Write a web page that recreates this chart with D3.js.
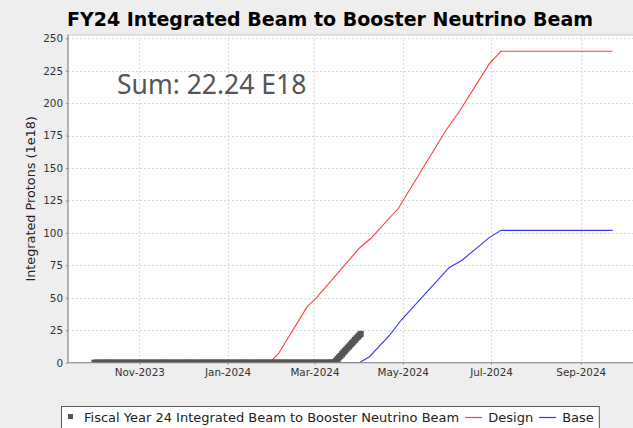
<!DOCTYPE html>
<html lang="en">
<head>
<meta charset="UTF-8">
<title>FY24 Integrated Beam to Booster Neutrino Beam</title>
<script src="https://d3js.org/d3.v7.min.js"></script>
<style>
  body { margin: 0; background: #eeeeee; font-family: "DejaVu Sans", sans-serif; }
  svg { display: block; }
  .grid line { stroke: #dadada; stroke-dasharray: 2,2; }
  .axis text { font-size: 10.4px; fill: #333; font-family: "DejaVu Sans", sans-serif; }
  .axis path, .axis line { stroke: #888; }
</style>
</head>
<body>
<svg id="chart" width="633" height="428"></svg>
<script>
// Daily integrated beam (1e18), one value per day starting at beamStart
const beamStart = "2023-10-01";
const beamValues = [
  0,0,0,0,0,0,0,0,0,0, 0,0,0,0,0,0,0,0,0,0, 0,0,0,0,0,0,0,0,0,0, 0,          // Oct
  0,0,0,0,0,0,0,0,0,0, 0,0,0,0,0,0,0,0,0,0, 0,0,0,0,0,0,0,0,0,0,            // Nov
  0,0,0,0,0,0,0,0,0,0, 0,0,0,0,0,0,0,0,0,0, 0,0,0,0,0,0,0,0,0,0, 0,          // Dec
  0,0,0,0,0,0,0,0,0,0, 0,0,0,0,0,0,0,0,0,0, 0,0,0,0,0,0,0,0,0,0, 0,          // Jan
  0,0,0,0,0,0,0,0,0,0, 0,0,0,0,0,0,0,0,0,0, 0,0,0,0,0,0,0,0,0,              // Feb
  0,0,0,0,0,0,0,0,0,0, 0,0,0,0,                                               // Mar 1-14
  0.4,1.6,2.9,4.1,5.2,6.5,7.8,9.0,10.3,11.5,12.6,13.9,15.1,16.3,17.6,18.8,20.0,21.1,22.24
];

const designDates = ["2023-10-01","2024-01-30","2024-02-05","2024-02-25","2024-03-02","2024-03-11",
                     "2024-04-01","2024-04-09","2024-04-28","2024-05-31","2024-06-09","2024-06-30",
                     "2024-07-08","2024-09-23"];
const designValues = [0, 0, 6.7, 43.2, 49.6, 61.2, 88.2, 95.9, 119, 179.3, 193.4, 230.7, 240, 240];

const baseDates = ["2023-10-01","2024-04-01","2024-04-08","2024-04-22","2024-04-30","2024-06-02",
                   "2024-06-11","2024-06-30","2024-07-08","2024-09-23"];
const baseValues = [0, 0, 4.6, 21.3, 32.9, 73.2, 79, 96.6, 102, 102];

const yTicks = [0, 25, 50, 75, 100, 125, 150, 175, 200, 225, 250];
const xTicks = ["2023-11-01","2024-01-01","2024-03-01","2024-05-01","2024-07-01","2024-09-01"];
const xTickLabels = ["Nov-2023","Jan-2024","Mar-2024","May-2024","Jul-2024","Sep-2024"];

const titleText = "FY24 Integrated Beam to Booster Neutrino Beam";
const sumText = "Sum: 22.24 E18";
const yLabel = "Integrated Protons (1e18)";
const legendNames = ["Fiscal Year 24 Integrated Beam to Booster Neutrino Beam", "Design", "Base"];

// Layout
const plot = { left: 68, right: 645, top: 35, bottom: 362.7 };
const parse = d3.timeParse("%Y-%m-%d");
const svg = d3.select("#chart");

const x = d3.scaleTime()
  .domain([new Date(2023, 8, 12, 17), new Date(2024, 9, 15, 10)])
  .range([plot.left, plot.right]);
const y = d3.scaleLinear()
  .domain([0, 252.54])
  .range([plot.bottom, plot.top]);

svg.append("defs").append("clipPath").attr("id", "clip")
  .append("rect")
  .attr("x", plot.left).attr("y", plot.top)
  .attr("width", plot.right - plot.left).attr("height", plot.bottom - plot.top);

// Plot background
svg.append("rect")
  .attr("x", plot.left).attr("y", plot.top)
  .attr("width", plot.right - plot.left).attr("height", plot.bottom - plot.top)
  .attr("fill", "white").attr("stroke", "#c8c8c8");

// Grid
const grid = svg.append("g").attr("class", "grid");
grid.selectAll(".h").data(yTicks.filter(d => d > 0)).enter().append("line")
  .attr("x1", plot.left).attr("x2", plot.right)
  .attr("y1", d => Math.round(y(d)) + 0.5).attr("y2", d => Math.round(y(d)) + 0.5);
grid.selectAll(".v").data(xTicks).enter().append("line")
  .attr("x1", d => Math.round(x(parse(d))) + 0.5).attr("x2", d => Math.round(x(parse(d))) + 0.5)
  .attr("y1", plot.top).attr("y2", plot.bottom);

// Series lines
const line = d3.line().x(d => x(d[0])).y(d => y(d[1]));
const lines = svg.append("g").attr("clip-path", "url(#clip)");
lines.append("path")
  .datum(designDates.map((d, i) => [parse(d), designValues[i]]))
  .attr("d", line).attr("fill", "none").attr("stroke", "#ff3b3b").attr("stroke-width", 1.1);
lines.append("path")
  .datum(baseDates.map((d, i) => [parse(d), baseValues[i]]))
  .attr("d", line).attr("fill", "none").attr("stroke", "#3535ff").attr("stroke-width", 1.1);

// Daily beam markers (drawn on top)
const t0 = parse(beamStart);
const beam = beamValues.map((v, i) => [d3.timeDay.offset(t0, i), v]);
lines.selectAll(".beam").data(beam).enter().append("rect")
  .attr("x", d => x(d[0]) - 3).attr("y", d => y(d[1]) - 3)
  .attr("width", 6).attr("height", 6)
  .attr("fill", "#555555");

// Axes
svg.append("g").attr("class", "axis")
  .attr("transform", `translate(${plot.left},0)`)
  .call(d3.axisLeft(y).tickValues(yTicks).tickSize(2).tickPadding(3).tickSizeOuter(0))
  .call(g => g.select(".domain").attr("d", `M0,${plot.top}V${plot.bottom}`));

svg.append("g").attr("class", "axis")
  .attr("transform", `translate(0,${plot.bottom})`)
  .call(d3.axisBottom(x).tickValues(xTicks.map(parse))
    .tickFormat((d, i) => xTickLabels[i]).tickSize(2).tickPadding(4).tickSizeOuter(0))
  .call(g => g.select(".domain").attr("d", `M${plot.left},0H${plot.right}`));

// Title
svg.append("text")
  .attr("x", 330).attr("y", 26)
  .attr("text-anchor", "middle")
  .style("font-family", "'DejaVu Sans', sans-serif")
  .style("font-weight", "bold").style("font-size", "19px")
  .attr("fill", "#000")
  .text(titleText);

// Y axis label
svg.append("text")
  .attr("transform", `translate(35,${(plot.top + plot.bottom) / 2}) rotate(-90)`)
  .attr("text-anchor", "middle")
  .style("font-size", "12.8px").attr("fill", "#222")
  .text(yLabel);

// Sum annotation
svg.append("text")
  .attr("x", 117).attr("y", 94)
  .style("font-family", "'Noto Sans', sans-serif").style("font-size", "26.5px")
  .attr("fill", "#555")
  .text(sumText);

// Legend
const legend = svg.append("g");
const lgY = 422;
const colors = ["#555555", "#ff3b3b", "#3535ff"];
let cx = 0;
legendNames.forEach((name, i) => {
  const g = legend.append("g");
  if (i === 0) {
    g.append("rect").attr("x", cx + 7).attr("y", lgY - 8).attr("width", 5).attr("height", 5).attr("fill", colors[0]);
    cx += 23;
  } else {
    g.append("line").attr("x1", cx + 6).attr("x2", cx + 23)
      .attr("y1", lgY - 4.5).attr("y2", lgY - 4.5)
      .attr("stroke", colors[i]).attr("stroke-width", 1.2);
    cx += 29;
  }
  const t = g.append("text").attr("x", cx).attr("y", lgY)
    .style("font-size", "13px").attr("fill", "#222").text(name);
  cx += t.node().getComputedTextLength();
});
cx += 5;
const lgLeft = 329.5 - cx / 2;
legend.insert("rect", ":first-child")
  .attr("x", 0.5).attr("y", 406.5).attr("width", cx).attr("height", 23)
  .attr("fill", "white").attr("stroke", "#555");
legend.attr("transform", `translate(${Math.round(lgLeft)},0)`);
</script>
</body>
</html>
